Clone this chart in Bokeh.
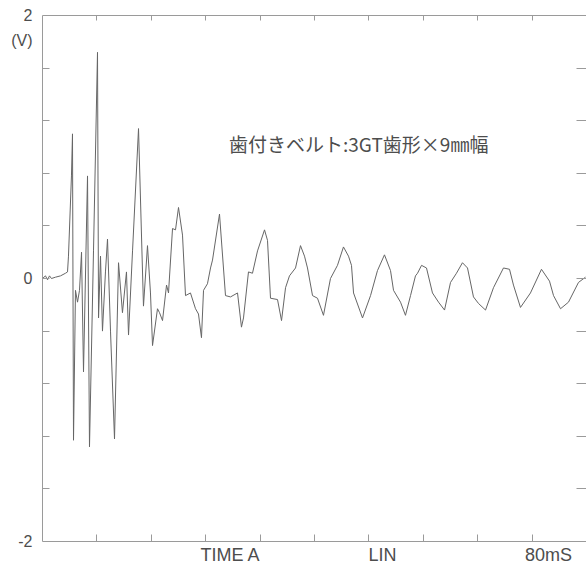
from bokeh.plotting import figure
from bokeh.models import LinearAxis, FixedTicker, Label, Range1d
from bokeh.embed import file_html
from bokeh.resources import INLINE

# ---- data: time (ms) and voltage (V) ----
time_ms = [0.00, 0.44, 0.74, 1.03, 1.32, 1.91, 2.65, 3.38, 3.68, 3.82, 4.26, 4.41, 4.56, 4.85,
           5.15, 5.44, 5.74, 6.03, 6.62, 6.91, 7.50, 8.09, 8.24, 8.53, 8.82, 9.26, 9.56, 10.00,
           10.59, 11.18, 11.76, 12.35, 12.65, 13.24, 14.12, 14.85, 15.44, 15.88, 16.18, 16.91,
           17.21, 17.65, 18.24, 18.53, 19.12, 19.56, 20.00, 20.59, 21.03, 21.76, 22.50, 22.94,
           23.38, 23.68, 24.26, 24.71, 25.00, 26.03, 26.91, 27.65, 28.68, 29.26, 29.56, 30.29,
           30.88, 31.62, 32.65, 33.09, 33.53, 34.56, 35.15, 35.74, 36.32, 37.21, 37.94, 38.53,
           38.97, 39.71, 40.44, 41.32, 42.35, 43.38, 44.26, 45.00, 45.44, 45.74, 47.06, 48.24,
           49.26, 50.29, 51.18, 51.62, 52.65, 53.38, 54.12, 54.85, 55.15, 55.74, 56.47, 57.35,
           58.24, 59.12, 60.00, 60.88, 61.76, 62.50, 63.38, 64.12, 65.15, 66.32, 67.79, 68.68,
           69.26, 70.29, 71.76, 73.38, 74.56, 75.15, 76.18, 77.35, 78.82, 79.85]
volts = [0.00, 0.02, -0.01, 0.02, 0.00, 0.01, 0.02, 0.04, 0.05, 0.17, 0.78, 1.10, -1.23, -0.09,
         -0.18, -0.09, 0.20, -0.71, 0.78, -1.28, 0.21, 1.72, -0.30, 0.17, -0.40, 0.05, 0.30, -0.40,
         -1.22, 0.12, -0.26, 0.05, -0.43, 0.21, 1.14, -0.21, 0.25, -0.11, -0.51, -0.23,
         -0.26, -0.32, -0.05, -0.11, 0.38, 0.37, 0.54, 0.33, -0.13, -0.11, -0.23, -0.27,
         -0.45, -0.09, -0.04, 0.08, 0.14, 0.49, -0.13, -0.14, -0.11, -0.37, -0.30, 0.05,
         0.04, 0.21, 0.37, 0.29, -0.15, -0.16, -0.32, -0.07, 0.02, 0.08, 0.25, 0.17,
         0.08, -0.13, -0.15, -0.28, 0.00, 0.10, 0.24, 0.17, 0.10, -0.11, -0.30, -0.13,
         0.06, 0.18, 0.06, -0.09, -0.18, -0.28, -0.13, 0.02, 0.04, 0.10, 0.08, -0.11,
         -0.18, -0.24, -0.03, 0.04, 0.12, 0.08, -0.14, -0.19, -0.24, -0.07, 0.08, 0.07,
         -0.05, -0.22, -0.11, 0.07, -0.02, -0.13, -0.23, -0.18, -0.03, 0.01]

y_label_ticks = [-2, 0, 1.81, 2]
y_label_texts = ["-2", "0", "(V)", "2"]
y_div_ticks = [-1.6, -1.2, -0.8, -0.4, 0, 0.4, 0.8, 1.2, 1.6]
x_label_ticks = [28, 50, 74.4]
x_label_texts = ["TIME  A", "LIN", "80mS"]
x_div_ticks = [8, 16, 24, 32, 40, 48, 56, 64, 72]
annotation_text = "歯付きベルト:3GT歯形×9㎜幅"
annotation_pos = (46.5, 1.03)

GRAY = "#9a9a9a"
TEXT = "#4d4d4d"
FONT = "Liberation Sans"

p = figure(width=586, height=568, output_backend="svg", toolbar_location=None,
           x_range=Range1d(0, 80), y_range=Range1d(-2, 2),
           x_axis_location=None, y_axis_location=None,
           min_border_left=42, min_border_right=0, min_border_top=15, min_border_bottom=27)
p.outline_line_color = None
p.xgrid.visible = False
p.ygrid.visible = False
p.background_fill_color = "white"
p.border_fill_color = "white"


def style(ax, labels=True):
    ax.axis_line_color = GRAY
    ax.axis_line_width = 1
    ax.major_tick_in = 0
    ax.major_tick_out = 0
    ax.minor_tick_in = 7
    ax.minor_tick_out = 0
    ax.minor_tick_line_color = GRAY
    ax.minor_tick_line_width = 1
    ax.major_label_text_color = TEXT
    ax.major_label_text_font = FONT
    if not labels:
        ax.major_label_text_font_size = "0px"
        ax.major_label_standoff = 0


left = LinearAxis(ticker=FixedTicker(ticks=y_label_ticks, minor_ticks=y_div_ticks))
style(left)
left.major_label_overrides = {t: s for t, s in zip(y_label_ticks, y_label_texts)}
left.major_label_text_font_size = "16px"
left.major_label_standoff = 10
p.add_layout(left, "left")

right = LinearAxis(ticker=FixedTicker(ticks=[], minor_ticks=y_div_ticks))
style(right, labels=False)
right.axis_line_color = None
right.minor_tick_in = 10
p.add_layout(right, "right")

bottom = LinearAxis(ticker=FixedTicker(ticks=x_label_ticks, minor_ticks=x_div_ticks))
style(bottom)
bottom.major_label_overrides = {t: s for t, s in zip(x_label_ticks, x_label_texts)}
bottom.major_label_text_font_size = "18px"
bottom.major_label_standoff = 3
p.add_layout(bottom, "below")

top = LinearAxis(ticker=FixedTicker(ticks=[], minor_ticks=x_div_ticks))
style(top, labels=False)
top.minor_tick_in = 5
p.add_layout(top, "above")

p.line(time_ms, volts, line_color="#666666", line_width=1)

p.add_layout(Label(x=annotation_pos[0], y=annotation_pos[1], text=annotation_text,
                   text_font="Noto Sans CJK JP", text_font_size="19px", text_color=TEXT,
                   text_align="center", text_baseline="middle"))

open("out.html", "w").write(file_html(p, INLINE))
